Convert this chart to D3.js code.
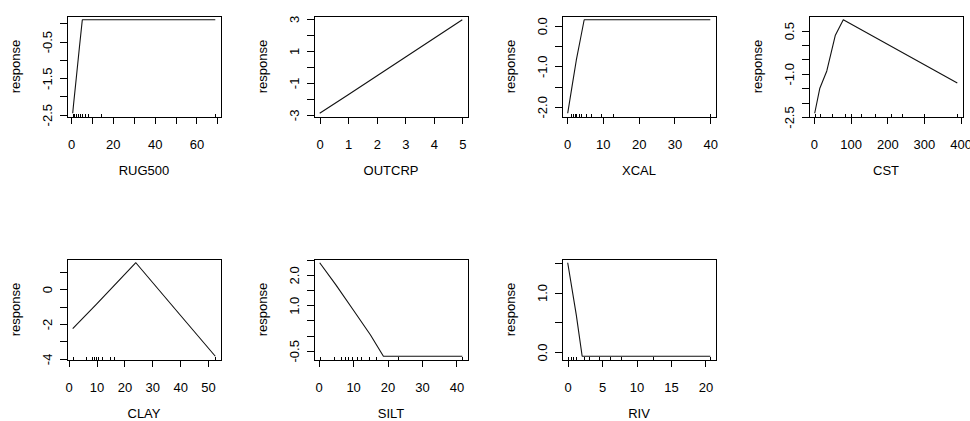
<!DOCTYPE html>
<html>
<head>
<meta charset="utf-8">
<script src="https://cdn.jsdelivr.net/npm/d3@7"></script>
<style>
  html, body { margin: 0; padding: 0; background: #fff; }
  svg { display: block; }
  text { font-family: "Liberation Sans", Arial, sans-serif; font-size: 13px; fill: #000; }
</style>
</head>
<body>
<svg id="chart" width="970" height="421"></svg>
<script>
// Partial response curves, one panel per predictor.
// x / y: fitted response curve; rug: observed predictor values.

const rug500X = [0.8, 1.2, 2.5, 4.0, 5.4, 69];
const rug500Y = [-2.46, -2.22, -1.5, -0.66, 0.10, 0.10];
const rug500Rug = [1.1, 1.5, 2.2, 3.2, 4.3, 5.4, 6.5, 8.0, 14.3, 69];
const rug500XTicks = [0, 10, 20, 30, 40, 50, 60, 70];
const rug500XLabels = ["0", "", "20", "", "40", "", "60", ""];
const rug500YTicks = [-2.5, -2, -1.5, -1, -0.5, 0];
const rug500YLabels = ["-2.5", "", "-1.5", "", "-0.5", ""];

const outcrpX = [0, 1, 2, 3, 4, 5];
const outcrpY = [-2.9, -1.74, -0.57, 0.6, 1.78, 2.95];
const outcrpRug = [];
const outcrpXTicks = [0, 1, 2, 3, 4, 5];
const outcrpXLabels = ["0", "1", "2", "3", "4", "5"];
const outcrpYTicks = [-3, -2, -1, 0, 1, 2, 3];
const outcrpYLabels = ["-3", "", "-1", "", "1", "", "3"];

const xcalX = [0.2, 1.4, 2.6, 3.7, 4.8, 40];
const xcalY = [-2.16, -1.5, -0.85, -0.35, 0.15, 0.15];
const xcalRug = [1.2, 1.7, 2.2, 2.6, 3.4, 4.0, 5.4, 6.8, 9.4, 12.9, 40];
const xcalXTicks = [0, 10, 20, 30, 40];
const xcalXLabels = ["0", "10", "20", "30", "40"];
const xcalYTicks = [-2, -1.5, -1, -0.5, 0];
const xcalYLabels = ["-2.0", "", "-1.0", "", "0.0"];

const cstX = [2, 16, 35, 58, 80, 391];
const cstY = [-2.37, -1.5, -0.9, 0.33, 0.88, -1.32];
const cstRug = [2, 16, 50, 84, 101, 128, 166, 211, 241, 299, 391];
const cstXTicks = [0, 100, 200, 300, 400];
const cstXLabels = ["0", "100", "200", "300", "400"];
const cstYTicks = [-2.5, -2, -1.5, -1, -0.5, 0, 0.5];
const cstYLabels = ["-2.5", "", "", "-1.0", "", "", "0.5"];

const clayX = [1.45, 10, 24.1, 40, 52.6];
const clayY = [-2.26, -0.85, 1.52, -1.48, -3.85];
const clayRug = [1.5, 6.3, 8.2, 9.1, 9.9, 10.7, 11.9, 14.7, 16.1, 52.6];
const clayXTicks = [0, 10, 20, 30, 40, 50];
const clayXLabels = ["0", "10", "20", "30", "40", "50"];
const clayYTicks = [-4, -3, -2, -1, 0, 1];
const clayYLabels = ["-4", "", "-2", "", "0", ""];

const siltX = [0.3, 5, 10, 15, 18.8, 41.7];
const siltY = [2.4, 1.67, 0.85, 0.03, -0.68, -0.68];
const siltRug = [0.3, 4.4, 6.6, 7.6, 8.6, 9.8, 11.1, 12.4, 14.7, 16.7, 23.0, 41.7];
const siltXTicks = [0, 10, 20, 30, 40];
const siltXLabels = ["0", "10", "20", "30", "40"];
const siltYTicks = [-0.5, 0, 0.5, 1, 1.5, 2, 2.5];
const siltYLabels = ["-0.5", "", "", "1.0", "", "2.0", ""];

const rivX = [0, 1.25, 2.1, 20.7];
const rivY = [1.5, 0.62, -0.07, -0.07];
const rivRug = [0, 0.5, 0.8, 1.2, 2.4, 3.1, 4.5, 6.1, 7.8, 12.4, 20.7];
const rivXTicks = [0, 5, 10, 15, 20];
const rivXLabels = ["0", "5", "10", "15", "20"];
const rivYTicks = [0, 0.5, 1, 1.5];
const rivYLabels = ["0.0", "", "1.0", ""];

const panels = [
  { name: "RUG500", x: rug500X, y: rug500Y, rug: rug500Rug, xt: rug500XTicks, xl: rug500XLabels, yt: rug500YTicks, yl: rug500YLabels },
  { name: "OUTCRP", x: outcrpX, y: outcrpY, rug: outcrpRug, xt: outcrpXTicks, xl: outcrpXLabels, yt: outcrpYTicks, yl: outcrpYLabels },
  { name: "XCAL", x: xcalX, y: xcalY, rug: xcalRug, xt: xcalXTicks, xl: xcalXLabels, yt: xcalYTicks, yl: xcalYLabels },
  { name: "CST", x: cstX, y: cstY, rug: cstRug, xt: cstXTicks, xl: cstXLabels, yt: cstYTicks, yl: cstYLabels },
  { name: "CLAY", x: clayX, y: clayY, rug: clayRug, xt: clayXTicks, xl: clayXLabels, yt: clayYTicks, yl: clayYLabels },
  { name: "SILT", x: siltX, y: siltY, rug: siltRug, xt: siltXTicks, xl: siltXLabels, yt: siltYTicks, yl: siltYLabels },
  { name: "RIV", x: rivX, y: rivY, rug: rivRug, xt: rivXTicks, xl: rivXLabels, yt: rivYTicks, yl: rivYLabels }
];

// Grid geometry: 4 columns x 2 rows of plot boxes
const boxLeft = [67, 314, 562, 809];
const boxTop = [16, 259];
const boxW = 154, boxH = 101;
const tickLen = 7;

// R-style domain: data range extended by 4% on each side
function padded(ext) {
  const r = ext[1] - ext[0];
  return [ext[0] - 0.04 * r, ext[1] + 0.04 * r];
}

const svg = d3.select("#chart");

panels.forEach((p, i) => {
  const col = i % 4, row = Math.floor(i / 4);
  const left = boxLeft[col], top = boxTop[row];
  const g = svg.append("g").attr("transform", `translate(${left},${top})`);

  const x = d3.scaleLinear().domain(padded(d3.extent(p.x))).range([0, boxW]);
  const y = d3.scaleLinear().domain(padded(d3.extent(p.y))).range([boxH, 0]);

  // response curve
  const pts = p.x.map((v, k) => [v, p.y[k]]);
  g.append("path")
    .datum(pts)
    .attr("fill", "none")
    .attr("stroke", "#111")
    .attr("stroke-width", 1.1)
    .attr("stroke-linejoin", "round")
    .attr("d", d3.line().x(d => x(d[0])).y(d => y(d[1])));

  // rug of observed values along the bottom edge
  g.selectAll("line.rug")
    .data(p.rug)
    .join("line")
    .attr("class", "rug")
    .attr("x1", d => Math.round(x(d)) + 0.5)
    .attr("x2", d => Math.round(x(d)) + 0.5)
    .attr("y1", boxH)
    .attr("y2", boxH - 0.03 * boxH)
    .attr("stroke", "#000")
    .attr("stroke-width", 1)
    .attr("shape-rendering", "crispEdges");

  // bottom axis
  const xAxis = g.append("g")
    .attr("transform", `translate(0,${boxH})`)
    .call(d3.axisBottom(x).tickValues(p.xt).tickFormat((d, k) => p.xl[k]).tickSize(tickLen).tickSizeOuter(0));
  xAxis.select(".domain").remove();
  xAxis.selectAll(".tick line").attr("stroke", "#000").attr("shape-rendering", "crispEdges");
  xAxis.selectAll(".tick text")
    .attr("y", 32).attr("dy", 0)
    .style("font-family", "'Liberation Sans', Arial, sans-serif")
    .style("font-size", "13px")
    .attr("fill", "#000");
  xAxis.append("line")
    .attr("x1", x(p.xt[0])).attr("x2", x(p.xt[p.xt.length - 1]))
    .attr("y1", 0).attr("y2", 0)
    .attr("stroke", "#000").attr("shape-rendering", "crispEdges");

  // left axis, labels parallel to the axis
  const yAxis = g.append("g")
    .call(d3.axisLeft(y).tickValues(p.yt).tickFormat((d, k) => p.yl[k]).tickSize(tickLen).tickSizeOuter(0));
  yAxis.select(".domain").remove();
  yAxis.selectAll(".tick line").attr("stroke", "#000").attr("shape-rendering", "crispEdges");
  yAxis.selectAll(".tick text")
    .attr("x", 0).attr("y", -15).attr("dy", 0)
    .attr("transform", "rotate(-90)")
    .attr("text-anchor", "middle")
    .style("font-family", "'Liberation Sans', Arial, sans-serif")
    .style("font-size", "13px")
    .attr("fill", "#000");

  // plot box
  g.append("rect")
    .attr("x", 0).attr("y", 0)
    .attr("width", boxW).attr("height", boxH)
    .attr("fill", "none")
    .attr("stroke", "#000")
    .attr("stroke-width", 1)
    .attr("shape-rendering", "crispEdges");

  // axis titles
  g.append("text")
    .attr("x", boxW / 2).attr("y", boxH + 58)
    .attr("text-anchor", "middle")
    .text(p.name);
  g.append("text")
    .attr("transform", `translate(-47,${boxH / 2}) rotate(-90)`)
    .attr("text-anchor", "middle")
    .text("response");
});
</script>
</body>
</html>
